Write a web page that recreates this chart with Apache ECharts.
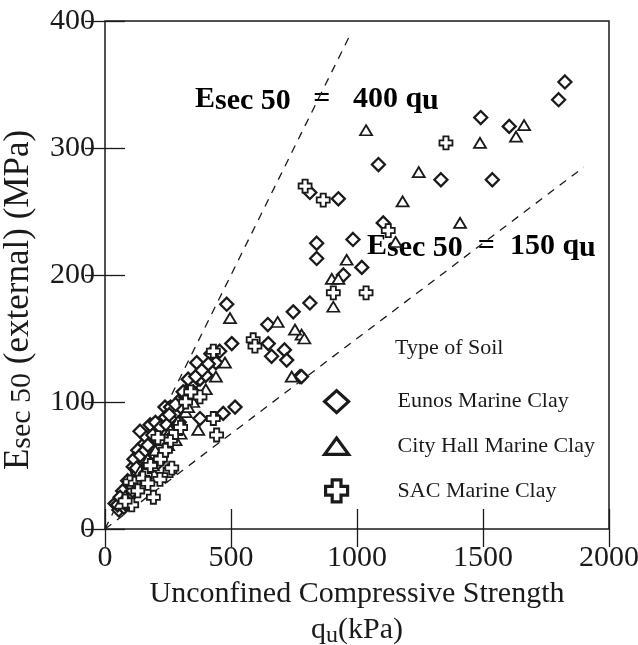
<!DOCTYPE html>
<html>
<head>
<meta charset="utf-8">
<script src="https://cdn.jsdelivr.net/npm/echarts@6/dist/echarts.min.js"></script>
<style>
  html, body { margin: 0; padding: 0; background: #fff; }
  #chart { width: 638px; height: 645px; }
</style>
</head>
<body>
<div id="chart"></div>
<script>
// qu (kPa), Esec50 (MPa)
var eunosData = [
  [1825, 352], [1800, 338], [1604, 317], [1491, 324], [1085, 287], [1537, 275], [1333, 275],
  [926, 260], [813, 265], [1104, 241], [984, 228], [840, 225], [840, 213], [1019, 206],
  [946, 200], [813, 178], [774, 120], [747, 171], [646, 161], [483, 177], [503, 146],
  [648, 146], [661, 136], [712, 141], [721, 133], [780, 120], [364, 131], [377, 118],
  [344, 113], [304, 103], [238, 96], [516, 96], [469, 91], [377, 87], [179, 82], [139, 77],
  [278, 81], [112, 49], [40, 20], [55, 15], [65, 22], [75, 17], [85, 25], [50, 19], [95, 30],
  [105, 36], [120, 40], [130, 44], [145, 50], [155, 55], [165, 48], [175, 60], [185, 64],
  [195, 57], [205, 70], [215, 66], [225, 74], [235, 78], [250, 72], [265, 86], [285, 92],
  [300, 96], [320, 104], [210, 52], [190, 42], [150, 66], [165, 72], [200, 84], [240, 88],
  [260, 96], [330, 118], [400, 121], [420, 138], [440, 131], [130, 62], [115, 55], [90, 38],
  [70, 30], [60, 25], [80, 20], [100, 26], [110, 30], [125, 48], [135, 38], [140, 58],
  [160, 62], [170, 66], [180, 52], [190, 74], [200, 58], [220, 80], [230, 60], [245, 82],
  [255, 90], [270, 78], [280, 98], [295, 84], [310, 108], [350, 108], [360, 120], [385, 125],
  [410, 130], [455, 140]
];
var cityHallData = [
  [1036, 314], [1663, 318], [1631, 309], [1488, 304], [1245, 281], [1181, 258], [1409, 241],
  [1153, 226], [959, 212], [900, 197], [926, 197], [906, 175], [780, 153], [496, 166],
  [685, 163], [754, 157], [791, 150], [741, 120], [370, 78], [476, 131], [440, 120],
  [400, 110], [350, 100], [320, 92], [290, 85], [260, 78], [230, 70], [200, 62], [170, 55],
  [140, 46], [110, 36], [80, 26], [60, 20], [300, 75], [250, 66], [190, 50], [150, 44],
  [280, 70], [330, 96]
];
var sacData = [
  [1353, 304], [794, 270], [866, 259], [1124, 235], [906, 186], [1036, 186], [588, 149],
  [595, 144], [430, 140], [430, 87], [443, 74], [192, 25], [377, 104], [258, 46], [99, 37],
  [106, 19], [265, 48], [218, 39], [80, 22], [120, 36], [140, 34], [160, 42], [180, 50],
  [220, 55], [240, 62], [260, 70], [280, 76], [300, 80], [320, 100], [340, 108], [210, 72],
  [150, 40], [130, 30], [170, 36]
];
// dashed reference lines Esec50 = 400 qu and 150 qu
var line400 = [[0, 0], [975, 390]];
var line150 = [[0, 0], [1900, 285]];

var xTicks = [0, 500, 1000, 1500, 2000];
var yTicks = [0, 100, 200, 300, 400];
var soilNames = ['Eunos Marine Clay', 'City Hall Marine Clay', 'SAC Marine Clay'];

var serif = '"Liberation Serif", "DejaVu Serif", serif';
var ink = '#1a1a1a';
var crossPath = 'path://M3,0H7V3H10V7H7V10H3V7H0V3H3Z';
var triPath = 'path://M0,15L11,0L22,15Z';

var chart = echarts.init(document.getElementById('chart'));

function scatter(name, data, symbol, size, bw) {
  return {
    name: name,
    type: 'scatter',
    data: data,
    symbol: symbol,
    symbolSize: size,
    itemStyle: { color: '#fff', borderColor: ink, borderWidth: bw, opacity: 1 },
    emphasis: { disabled: true }
  };
}

function refLine(data) {
  return {
    type: 'line',
    data: data,
    showSymbol: false,
    silent: true,
    lineStyle: { color: ink, width: 1.3, type: [8, 7] },
    z: 1
  };
}

var subRich = {
  m: { fontFamily: serif, fontSize: 30, fontWeight: 'bold', lineHeight: 34, color: ink },
  s: { fontFamily: serif, fontSize: 30, fontWeight: 'bold', lineHeight: 18, verticalAlign: 'bottom', color: ink }
};

option = {
  backgroundColor: '#fff',
  animation: false,
  grid: {
    left: 105, right: 29, top: 21, bottom: 116,
    outerBoundsMode: 'none',
    containLabel: false,
    show: true, borderColor: ink, borderWidth: 1.5
  },
  xAxis: [{
    type: 'value', min: xTicks[0], max: xTicks[xTicks.length - 1], interval: 500,
    axisLine: { show: false },
    axisTick: { inside: true, length: 20, lineStyle: { color: ink, width: 1.3 } },
    splitLine: { show: false },
    axisLabel: { fontFamily: serif, fontSize: 30, color: ink, margin: 14, formatter: function (v) { return String(v); } },
    name: '{a|Unconfined Compressive Strength}\n{a|q}{s|u}{a|(kPa)}',
    nameLocation: 'middle',
    nameGap: 47,
    nameTextStyle: {
      rich: {
        a: { fontFamily: serif, fontSize: 30, lineHeight: 36, color: ink },
        s: { fontFamily: serif, fontSize: 24, lineHeight: 16, verticalAlign: 'bottom', color: ink }
      }
    }
  }, {
    type: 'value', position: 'top', min: 0, max: 2000, interval: 500,
    axisLine: { show: false }, axisLabel: { show: false }, splitLine: { show: false },
    axisTick: { inside: true, length: 18, lineStyle: { color: ink, width: 1.3 } }
  }],
  yAxis: [{
    type: 'value', min: yTicks[0], max: yTicks[yTicks.length - 1], interval: 100,
    axisLine: { show: false },
    axisTick: { inside: true, length: 20, lineStyle: { color: ink, width: 1.3 } },
    splitLine: { show: false },
    axisLabel: { fontFamily: serif, fontSize: 30, color: ink, margin: 10, formatter: function (v) { return String(v); } },
    name: '{a|E}{s|sec 50}{a| (external) (MPa)}',
    nameLocation: 'middle',
    nameRotate: 90,
    nameGap: 68,
    nameTextStyle: {
      padding: [0, 50, 0, 0],
      rich: {
        a: { fontFamily: serif, fontSize: 35, lineHeight: 36, color: ink },
        s: { fontFamily: serif, fontSize: 30, lineHeight: 16, verticalAlign: 'bottom', color: ink }
      }
    }
  }, {
    type: 'value', position: 'right', min: 0, max: 400, interval: 100,
    axisLine: { show: false }, axisLabel: { show: false }, splitLine: { show: false },
    axisTick: { inside: true, length: 20, lineStyle: { color: ink, width: 1.3 } }
  }],
  legend: {
    orient: 'vertical',
    left: 323,
    top: 389,
    padding: 0,
    itemWidth: 24,
    itemHeight: 22,
    itemGap: 20,
    selectedMode: false,
    itemStyle: { borderWidth: 3.2 },
    textStyle: { fontFamily: serif, fontSize: 22, color: ink, lineHeight: 24, padding: [0, 0, 0, 44] },
    data: [
      { name: soilNames[0], icon: 'diamond' },
      { name: soilNames[1], icon: triPath },
      { name: soilNames[2], icon: crossPath }
    ]
  },
  graphic: [
    {
      type: 'text', left: 395, top: 337,
      style: { text: 'Type of Soil', fontFamily: serif, fontSize: 22, fill: ink }
    },
    {
      type: 'text', left: 195, top: 84,
      style: { text: '{m|E}{s|sec 50}{m|   =   400 q}{s|u}', rich: subRich }
    },
    {
      type: 'text', left: 367, top: 231,
      style: { text: '{m|E}{s|sec 50}{m|  =  150 q}{s|u}', rich: subRich }
    }
  ],
  series: [
    refLine(line400),
    refLine(line150),
    scatter(soilNames[0], eunosData, 'diamond', 13, 2.3),
    scatter(soilNames[1], cityHallData, 'triangle', [12, 10], 1.8),
    scatter(soilNames[2], sacData, crossPath, 13, 1.8)
  ]
};

chart.setOption(option);
</script>
</body>
</html>
